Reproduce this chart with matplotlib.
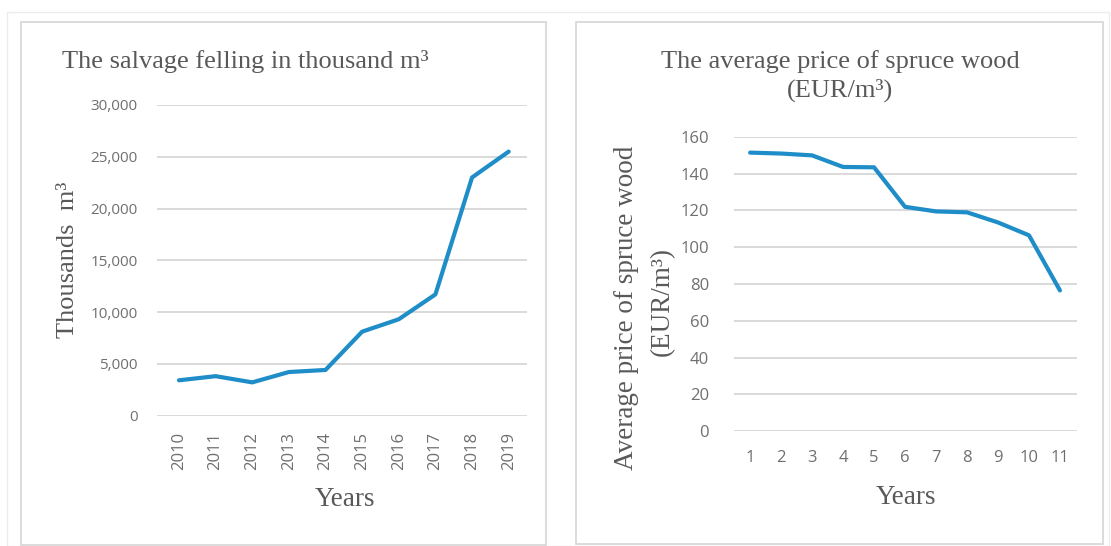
import matplotlib
matplotlib.use("Agg")
import matplotlib.pyplot as plt
from matplotlib.patches import Rectangle

# ---- data ----
years_left = ["2010", "2011", "2012", "2013", "2014", "2015", "2016", "2017", "2018", "2019"]
salvage_felling = [3400, 3800, 3200, 4200, 4400, 8100, 9300, 11700, 23000, 25500]
left_yticks = [0, 5000, 10000, 15000, 20000, 25000, 30000]
left_yticklabels = ["0", "5,000", "10,000", "15,000", "20,000", "25,000", "30,000"]

years_right = [1, 2, 3, 4, 5, 6, 7, 8, 9, 10, 11]
spruce_price = [151.5, 151, 150, 143.7, 143.5, 122, 119.5, 119, 113.5, 106.5, 76.5]
right_yticks = [0, 20, 40, 60, 80, 100, 120, 140, 160]

W, H = 1111, 546
fig = plt.figure(figsize=(W / 100, H / 100), dpi=100)

def fx(px):
    return px / W

def fy(py):
    return 1 - py / H

TEXT = "#595959"
TICK = "#6f6f6f"
GRID = "#d9d9d9"
LINE = "#1f8dc7"
SERIF = ["Liberation Serif", "DejaVu Serif"]
SANS = ["Open Sans", "DejaVu Sans"]

# panel frames
fig.patches.append(Rectangle((fx(7), fy(546)), fx(1102), fy(12) - fy(546),
                             transform=fig.transFigure, fill=False, ec="#ececec", lw=1))
fig.patches.append(Rectangle((fx(21), fy(545)), fx(525), fy(22) - fy(545),
                             transform=fig.transFigure, fill=False, ec="#d6d6d6", lw=1.2))
fig.patches.append(Rectangle((fx(576), fy(544)), fx(527), fy(22) - fy(544),
                             transform=fig.transFigure, fill=False, ec="#d6d6d6", lw=1.2))

def style(ax):
    for s in ax.spines.values():
        s.set_visible(False)
    ax.grid(axis="y", color=GRID, lw=1.4)
    ax.set_axisbelow(True)
    ax.tick_params(length=0, colors=TICK)

# ---- left chart ----
axL = fig.add_axes([fx(157), fy(415.5), fx(527 - 157), fy(105) - fy(415.5)])
style(axL)
xl = list(range(len(years_left)))
axL.plot(xl, salvage_felling, color=LINE, lw=3, solid_capstyle="round", solid_joinstyle="round")
axL.set_ylim(0, 30000)
axL.set_xlim(-0.6, 9.5)
axL.set_yticks(left_yticks)
axL.set_yticklabels(left_yticklabels, fontsize=11, family=SANS)
axL.set_xticks(xl)
axL.set_xticklabels(years_left, rotation=90, fontsize=12, family=SANS)
axL.tick_params(axis="y", pad=14)
axL.tick_params(axis="x", pad=12)

fig.text(fx(62), fy(68), "The salvage felling in thousand m³", fontsize=19,
         family=SERIF, color=TEXT, ha="left", va="baseline")
fig.text(fx(68), fy(260), "Thousands  m³", fontsize=19, family=SERIF, color=TEXT,
         rotation=90, ha="center", va="center")
fig.text(fx(345), fy(500), "Years", fontsize=19.5, family=SERIF, color=TEXT,
         ha="center", va="center")

# ---- right chart ----
axR = fig.add_axes([fx(734), fy(431), fx(1077 - 734), fy(137) - fy(431)])
style(axR)
axR.plot(years_right, spruce_price, color=LINE, lw=3, solid_capstyle="round", solid_joinstyle="round")
axR.set_ylim(0, 160)
axR.set_xlim(0.48, 11.55)
axR.set_yticks(right_yticks)
axR.set_yticklabels([str(v) for v in right_yticks], fontsize=12, family=SANS)
axR.set_xticks(years_right)
axR.set_xticklabels([str(v) for v in years_right], fontsize=12, family=SANS)
axR.tick_params(axis="y", pad=18)
axR.tick_params(axis="x", pad=14)

fig.text(fx(840), fy(68), "The average price of spruce wood", fontsize=19,
         family=SERIF, color=TEXT, ha="center", va="baseline")
fig.text(fx(840), fy(97), "(EUR/m³)", fontsize=19,
         family=SERIF, color=TEXT, ha="center", va="baseline")
fig.text(fx(627), fy(308), "Average price of spruce wood", fontsize=19.5, family=SERIF,
         color=TEXT, rotation=90, ha="center", va="center")
fig.text(fx(662), fy(302), "(EUR/m³)", fontsize=19.5, family=SERIF,
         color=TEXT, rotation=90, ha="center", va="center")
fig.text(fx(906), fy(497), "Years", fontsize=19.5, family=SERIF, color=TEXT,
         ha="center", va="center")

fig.savefig("out.png", dpi=100, facecolor="white")
